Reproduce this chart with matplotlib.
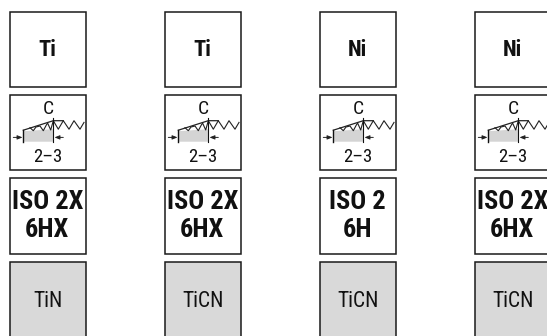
import matplotlib
matplotlib.use("Agg")
import matplotlib.pyplot as plt
from matplotlib.patches import Rectangle, Polygon

plt.rcParams["font.family"] = ["Roboto Condensed", "Liberation Sans", "DejaVu Sans"]

materials = ["Ti", "Ti", "Ni", "Ni"]
tolerances = [["ISO 2X", "6HX"], ["ISO 2X", "6HX"], ["ISO 2", "6H"], ["ISO 2X", "6HX"]]
coatings = ["TiN", "TiCN", "TiCN", "TiCN"]
chamfer_form = "C"
chamfer_pitch = "2–3"

col_left = [10, 165, 320, 475]
row_top = [11.7, 94.7, 178, 261.7]
box_w = 75.7
box_h = 75.5

# thread profile of the icon, relative to the box top left corner
teeth_x = [20, 23.3, 26, 30, 33.3, 36.7, 37.7, 40.7, 43.3, 48.3, 53.3, 59, 64, 70, 74]
teeth_y = [33, 36, 32.3, 31.3, 36, 29.6, 28.6, 35.3, 26, 34.5, 26, 34.5, 26, 34.5, 27.7]
top_x = [13.3, 43.3, 53.3]
top_y = [35.5, 26, 26]
shade_x = [13.3, 13.3, 43.3, 43.3]
shade_y = [47, 36.5, 34.5, 47]

fig = plt.figure(figsize=(5.47, 3.36), dpi=100)
ax = fig.add_axes([0, 0, 1, 1])
ax.set_xlim(0, 547)
ax.set_ylim(336, 0)
ax.axis("off")

arrow = dict(arrowstyle="-|>,head_width=0.12,head_length=0.3", color="#222222",
             lw=0.7, shrinkA=0, shrinkB=0)

for i, left in enumerate(col_left):
    cx = left + box_w / 2
    for j, top in enumerate(row_top):
        face = "#d9d9d9" if j == 3 else "white"
        ax.add_patch(Rectangle((left, top), box_w, box_h, facecolor=face,
                               edgecolor="#1a1a1a", linewidth=1.1))

    ax.text(cx - 0.5, row_top[0] + 36, materials[i], ha="center", va="center_baseline",
            fontsize=16, fontweight="bold", color="#111111")

    # icon
    x0, y0 = left, row_top[1]
    ax.add_patch(Polygon([(x0 + a, y0 + b) for a, b in zip(shade_x, shade_y)],
                         facecolor="#d4d4d4", edgecolor="none"))
    ax.plot([x0 + v for v in teeth_x], [y0 + v for v in teeth_y], color="#222222", lw=0.8)
    ax.plot([x0 + v for v in top_x], [y0 + v for v in top_y], color="#222222", lw=0.9)
    ax.plot([x0 + 13.3, x0 + 13.3], [y0 + 35.5, y0 + 47], color="#111111", lw=1.0)
    ax.plot([x0 + 43.3, x0 + 43.3], [y0 + 23, y0 + 47], color="#111111", lw=0.8)
    ax.annotate("", xy=(x0 + 12.5, y0 + 42.7), xytext=(x0 + 3.3, y0 + 42.7), arrowprops=arrow)
    ax.annotate("", xy=(x0 + 44.5, y0 + 42.7), xytext=(x0 + 53.3, y0 + 42.7), arrowprops=arrow)
    ax.text(cx, y0 + 12, chamfer_form, ha="center", va="center_baseline", fontsize=14, color="#111111")
    ax.text(cx, y0 + 60.5, chamfer_pitch, ha="center", va="center_baseline", fontsize=13.5, color="#111111")

    # tolerance class
    ax.text(cx - 0.5, row_top[2] + 21.5, tolerances[i][0], ha="center", va="center_baseline",
            fontsize=19, fontweight="bold", color="#111111")
    ax.text(cx - 0.5, row_top[2] + 49.5, tolerances[i][1], ha="center", va="center_baseline",
            fontsize=19, fontweight="bold", color="#111111")

    ax.text(cx, row_top[3] + 37.5, coatings[i], ha="center", va="center_baseline",
            fontsize=15.5, color="#111111")

fig.savefig("out.png", dpi=100)
